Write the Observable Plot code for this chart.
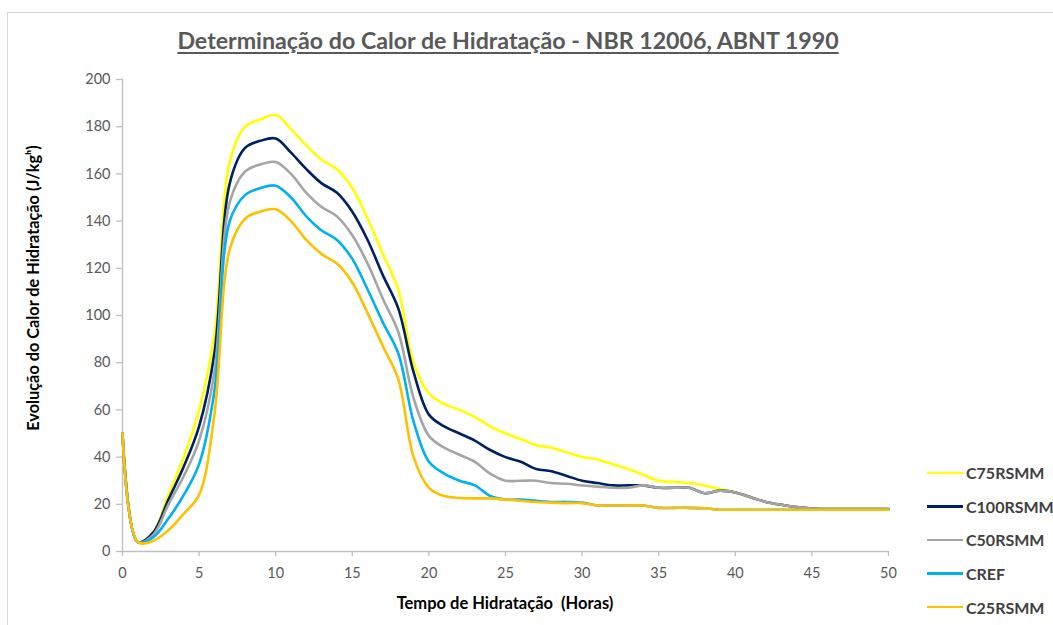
<!DOCTYPE html>
<html>
<head>
<meta charset="utf-8">
<script src="https://cdn.jsdelivr.net/npm/d3@7"></script>
<script src="https://cdn.jsdelivr.net/npm/@observablehq/plot@0.6"></script>
<style>
  html, body { margin: 0; padding: 0; background: #fff; }
  #wrap { position: relative; width: 1053px; height: 625px; overflow: hidden; font-family: Lato, "Open Sans", sans-serif; }
  #frame { position: absolute; left: 7px; top: 12px; width: 1200px; height: 800px; border-left: 1px solid #d9d9d9; border-top: 1px solid #d9d9d9; }
  #title { position: absolute; left: 0; top: 0; width: 1016px; height: 60px; text-align: center; font-weight: bold; font-size: 23.2px; color: #595959; line-height: 80px; }
  #title span { text-decoration: underline; text-underline-offset: 3px; }
  #chart { position: absolute; left: 0; top: 60px; }
  #xlabel { position: absolute; left: 505px; top: 603px; transform: translate(-50%, -50%); font-weight: bold; font-size: 16.5px; color: #000; white-space: pre; }
  #ylabel { position: absolute; left: 32px; top: 288px; transform: translate(-50%, -50%) rotate(-90deg); font-weight: bold; font-size: 16.3px; color: #000; white-space: nowrap; }
  #legend { position: absolute; left: 927px; top: 456px; }
  .lg { display: flex; align-items: center; height: 33.6px; }
  .sw { width: 36px; height: 2.5px; margin-right: 3px; }
  .lt { font-weight: bold; font-size: 16px; color: #404040; white-space: nowrap; }
</style>
</head>
<body>
<div id="wrap">
  <div id="frame"></div>
  <div id="title"><span>Determinação do Calor de Hidratação - NBR 12006, ABNT 1990</span></div>
  <div id="chart"></div>
  <div id="xlabel">Tempo de Hidratação  (Horas)</div>
  <div id="ylabel">Evolução do Calor de Hidratação (J/kgʰ)</div>
  <div id="legend"></div>
</div>
<script>
// ---- data ----
const hours = [0,1,2,3,4,5,6,7,8,9,10,11,12,13,14,15,16,17,18,19,20,21,22,23,24,25,26,27,28,29,30,31,32,33,34,35,36,37,38,39,40,41,42,43,44,45,46,47,48,49,50];

const c75rsmm = [50,4,8,24,40,60,92,165,180,183,185,179,172,166,162,154,141,126,111,80,67,62.5,60,57,53,50,47.7,45,44,42,40,39,37,35,32.5,30,29.5,29,28,26.5,25,23,21,19.8,18.8,18.2,18,18,18,18,18];
const c100rsmm = [50,4,8,22,36,53,84,156,171,174,175,169,162,156,152,144,132,117,103,76,58,53,50,47,43,40,38,35,34,32,30,29,28,28,28,27,27,27,24.7,25.8,25,23,21,19.8,18.8,18.2,18,18,18,18,18];
const c50rsmm = [50,4,7,20,32,47,76,148,161,164,165,160,152,146,142,134,122,107,93,65,49,44,41,38,33,30,30,30,29,28.7,28,27.5,27,27,28,27,27,27,24.7,25.8,25,23,21,19.8,18.8,18.2,18,18,18,18,18];
const cref = [50,4,6,14,24,37,68,140,151,154,155,150,142,136,132,124,111,97,84,55,38,33,30,28,23.5,22,22,21.5,21,21,20.7,19.5,19.5,19.5,19.5,18.5,18.5,18.5,18.3,17.7,17.7,17.7,17.7,17.7,17.7,17.7,17.7,17.7,17.7,17.7,17.7];
const c25rsmm = [50,4,4.5,9,16,24,58,128,141,144,145,140,132,126,122,114,101,87,73,40,27,23.5,22.7,22.5,22.5,22,21.5,21,20.7,20.5,20.5,19.5,19.5,19.5,19.5,18.5,18.5,18.5,18.3,17.7,17.7,17.7,17.7,17.7,17.7,17.7,17.7,17.7,17.7,17.7,17.7];

const seriesNames = ["C75RSMM", "C100RSMM", "C50RSMM", "CREF", "C25RSMM"];
const seriesValues = [c75rsmm, c100rsmm, c50rsmm, cref, c25rsmm];

const xTicks = [0,5,10,15,20,25,30,35,40,45,50];
const yTicks = [0,20,40,60,80,100,120,140,160,180,200];

// ---- styles ----
const seriesColors = ["#ffff00", "#002060", "#a5a5a5", "#00b0f0", "#ffc000"];

const rows = [];
seriesNames.forEach((name, i) => {
  seriesValues[i].forEach((v, j) => rows.push({series: name, hour: hours[j], value: v}));
});

const chart = Plot.plot({
  width: 1053,
  height: 565,
  marginLeft: 122,
  marginRight: 165,
  marginTop: 19,
  marginBottom: 74,
  style: {fontFamily: "Lato, 'Open Sans', sans-serif", fontSize: "14.5px", background: "transparent", overflow: "visible"},
  x: {domain: [0, 50]},
  y: {domain: [0, 200]},
  color: {domain: seriesNames, range: seriesColors},
  marks: [
    Plot.axisX({ticks: xTicks, tickSize: 5, tickPadding: 11, label: null, stroke: "#bfbfbf", fill: "#595959", strokeWidth: 1.3}),
    Plot.axisY({ticks: yTicks, tickSize: 6, tickPadding: 6, label: null, stroke: "#bfbfbf", fill: "#595959", strokeWidth: 1.3}),
    Plot.ruleY([0], {stroke: "#bfbfbf", strokeWidth: 1.3}),
    Plot.ruleX([0], {stroke: "#bfbfbf", strokeWidth: 1.3}),
    Plot.line(rows, {x: "hour", y: "value", z: "series", stroke: "series", strokeWidth: 2.6, curve: "catmull-rom"})
  ]
});
document.getElementById("chart").appendChild(chart);

// ---- legend ----
const legend = document.getElementById("legend");
seriesNames.forEach((name, i) => {
  const row = document.createElement("div");
  row.className = "lg";
  const sw = document.createElement("div");
  sw.className = "sw";
  sw.style.background = seriesColors[i];
  const t = document.createElement("span");
  t.className = "lt";
  t.textContent = name;
  row.appendChild(sw);
  row.appendChild(t);
  legend.appendChild(row);
});
</script>
</body>
</html>
